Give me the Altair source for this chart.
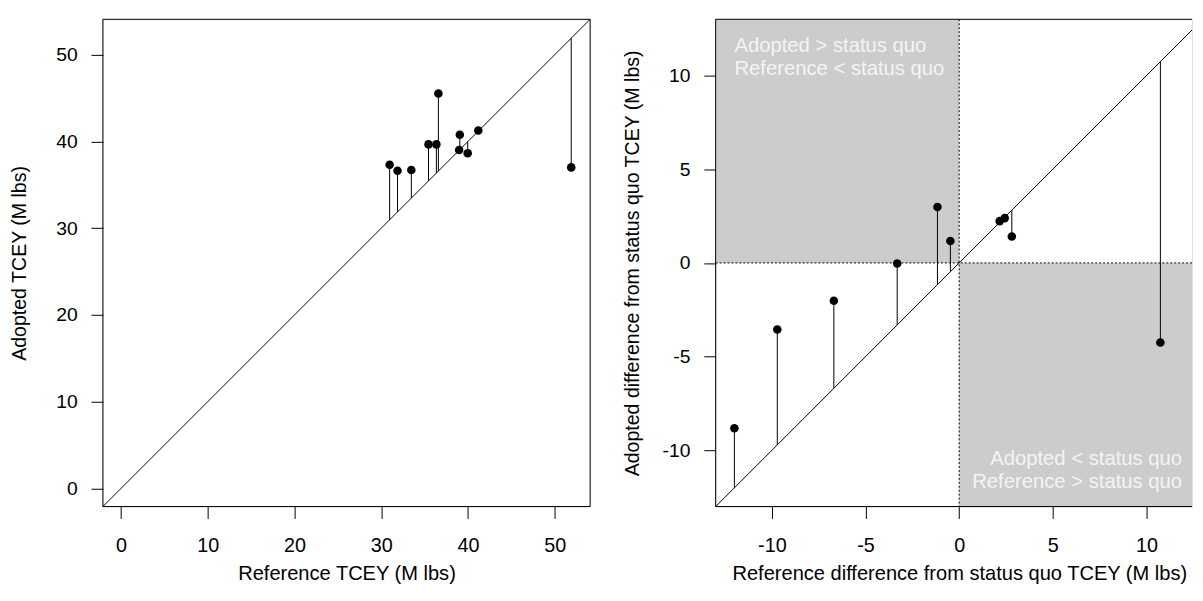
import altair as alt
import pandas as pd

# ---- data ----
left_reference = [30.97, 31.88, 33.47, 35.45, 36.36, 36.59, 39.06, 38.98, 39.97, 41.19, 51.90]
left_adopted = [37.31, 36.63, 36.70, 39.66, 39.66, 45.52, 40.77, 39.02, 38.64, 41.26, 37.01]

right_reference_diff = [-12.00, -9.71, -6.69, -3.31, -1.16, -0.47, 2.16, 2.43, 2.81, 10.74]
right_adopted_diff = [-8.82, -3.55, -2.02, -0.03, 2.98, 1.17, 2.23, 2.39, 1.41, -4.25]

left_domain = [-2.08, 54.08]
# right panel is cut by the window edge in the reference (full y range +-13)
right_xdomain = [-13.0, 12.43]
right_ydomain = [-13.0, 13.0]
left_ticks = [0, 10, 20, 30, 40, 50]
right_ticks = [-10, -5, 0, 5, 10]

left_xtitle = "Reference TCEY (M lbs)"
left_ytitle = "Adopted TCEY (M lbs)"
right_xtitle = "Reference difference from status quo TCEY (M lbs)"
right_ytitle = "Adopted difference from status quo TCEY (M lbs)"

quad_x1 = [-13.0, 0.0]
quad_x2 = [0.0, 13.0]
quad_y1 = [0.0, -13.0]
quad_y2 = [13.0, 0.0]

note_tl = ["Adopted > status quo", "Reference < status quo"]
note_tl_x = [-12.0, -12.0]
note_tl_y = [11.55, 10.35]
note_br = ["Adopted < status quo", "Reference > status quo"]
note_br_x = [11.9, 11.9]
note_br_y = [-10.45, -11.7]

FONT = "Liberation Sans"
LABEL_EXPR = "'' + datum.value"


def xaxis(ticks, title_x=None):
    kw = {}
    if title_x is not None:
        kw["titleX"] = title_x
    return alt.Axis(values=ticks, grid=False, domain=False, tickSize=12,
                    tickColor="black", tickWidth=1, labelPadding=17,
                    labelFontSize=20, labelFont=FONT, labelColor="black",
                    labelFlush=False, labelOverlap=False, labelExpr=LABEL_EXPR,
                    titleFont=FONT, titleFontSize=20.3, titleFontWeight="normal",
                    titleColor="black", titleBaseline="alphabetic", titleY=74, **kw)


def yaxis(ticks):
    return alt.Axis(values=ticks, grid=False, domain=False, tickSize=12,
                    tickColor="black", tickWidth=1, labelPadding=14,
                    labelFontSize=19.5, labelFont=FONT, labelColor="black",
                    labelFlush=False, labelOverlap=False, labelExpr=LABEL_EXPR,
                    titleFont=FONT, titleFontSize=19.8, titleFontWeight="normal",
                    titleColor="black", titleBaseline="middle", titleX=-84)


def panel(ref, adopt, xdomain, ydomain, ticks, xt, yt, quadrants, width, title_x=None):
    df = pd.DataFrame({"ref": ref, "adopt": adopt})
    lo = max(xdomain[0], ydomain[0])
    hi = min(xdomain[1], ydomain[1])
    diag = pd.DataFrame({"v": [lo, hi]})
    sx = alt.Scale(domain=xdomain, nice=False, zero=False)
    sy = alt.Scale(domain=ydomain, nice=False, zero=False)
    X = lambda f: alt.X(f, type="quantitative", scale=sx, axis=xaxis(ticks, title_x), title=xt)
    Y = lambda f: alt.Y(f, type="quantitative", scale=sy, axis=yaxis(ticks), title=yt)

    layers = []
    if quadrants:
        qdf = pd.DataFrame({
            "x1": [max(v, xdomain[0]) for v in quad_x1],
            "x2": [min(v, xdomain[1]) for v in quad_x2],
            "y1": [max(v, ydomain[0]) for v in quad_y1],
            "y2": [min(v, ydomain[1]) for v in quad_y2]})
        layers.append(alt.Chart(qdf).mark_rect(color="#CCCCCC").encode(
            x=X("x1"), x2="x2", y=Y("y1"), y2="y2"))
        zdf = pd.DataFrame({"z": [0.0]})
        layers.append(alt.Chart(zdf).mark_rule(color="black", strokeWidth=1,
                                               strokeDash=[2, 2]).encode(x=X("z")))
        layers.append(alt.Chart(zdf).mark_rule(color="black", strokeWidth=1,
                                               strokeDash=[2, 2]).encode(y=Y("z")))
        tl = pd.DataFrame({"x": note_tl_x, "y": note_tl_y, "t": note_tl})
        br = pd.DataFrame({"x": note_br_x, "y": note_br_y, "t": note_br})
        layers.append(alt.Chart(tl).mark_text(align="left", baseline="middle", font=FONT,
                                              fontSize=20.5, color="#F4F4F4").encode(
            x=X("x"), y=Y("y"), text="t"))
        layers.append(alt.Chart(br).mark_text(align="right", baseline="middle", font=FONT,
                                              fontSize=20.5, color="#F4F4F4").encode(
            x=X("x"), y=Y("y"), text="t"))

    layers.append(alt.Chart(diag).mark_line(color="black", strokeWidth=1).encode(
        x=X("v"), y=Y("v")))
    layers.append(alt.Chart(df).mark_rule(color="black", strokeWidth=1).encode(
        x=X("ref"), y=Y("ref"), y2="adopt"))
    layers.append(alt.Chart(df).mark_circle(color="black", opacity=1, size=75).encode(
        x=X("ref"), y=Y("adopt")))

    # plot frame (box); the right panel's right side lies beyond the window
    vx = [xdomain[0]] if quadrants else list(xdomain)
    layers.append(alt.Chart(pd.DataFrame({"e": vx})).mark_rule(
        color="black", strokeWidth=1).encode(x=X("e")))
    layers.append(alt.Chart(pd.DataFrame({"e": list(ydomain)})).mark_rule(
        color="black", strokeWidth=1).encode(y=Y("e")))
    return alt.layer(*layers).properties(width=width, height=493)


left = panel(left_reference, left_adopted, left_domain, left_domain, left_ticks,
             left_xtitle, left_ytitle, False, 493)
right = panel(right_reference_diff, right_adopted_diff, right_xdomain, right_ydomain,
              right_ticks, right_xtitle, right_ytitle, True, 482, title_x=246.5)

chart = alt.hconcat(left, right, spacing=29).configure_view(
    strokeWidth=0, stroke="transparent").configure(
    padding={"left": 1, "top": 5, "right": 0, "bottom": 0}, background="white")

chart.save("out.html", embed_options={"renderer": "svg", "actions": False})
